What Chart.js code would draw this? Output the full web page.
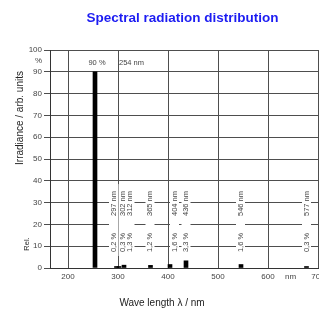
<!DOCTYPE html>
<html>
<head>
<meta charset="utf-8">
<script src="https://cdn.jsdelivr.net/npm/chart.js@4.4.1/dist/chart.umd.min.js"></script>
<style>
  html, body { margin: 0; padding: 0; background: #fff; overflow: hidden; }
  .content { width: 370px; height: 309px; }
</style>
</head>
<body>
<div class="content"><canvas id="myChart" width="370" height="309"></canvas></div>
<script>
// spectral lines (mercury lamp)
const lineNames = ['254 nm', '297 nm', '302 nm', '312 nm', '365 nm', '404 nm', '436 nm', '546 nm', '577 nm']
// where each bar stands on the wave length axis in the picture
const barPos = [254, 297, 302, 312, 365, 404, 436, 546, 677]
// where the rotated text column of each line stands
const labelPos = [258, 291, 310, 324, 364, 413, 436, 545, 677]
const percent = [90, 0.2, 0.3, 1.3, 1.2, 1.6, 3.3, 1.6, 0.3]
const percentText = ['90 %', '0,2 %', '0,3 %', '1,3 %', '1,2 %', '1,6 %', '3,3 %', '1,6 %', '0,3 %']

const xTicks = [200, 300, 400, 500, 600, 645, 700]
const yTicks = [0, 10, 20, 30, 40, 50, 60, 70, 80, 90, 95, 100]

const gridColor = '#4e4e4e'
const tickFont = { family: "'Liberation Sans Narrow', 'Liberation Sans', Arial, sans-serif", size: 8 }

const lineLabels = {
    id: 'lineLabels',
    beforeDatasetsDraw(chart) {
        const { ctx } = chart
        const x = chart.scales.x
        const y = chart.scales.y
        ctx.save()
        // white columns behind the texts, they cut the grid
        ctx.fillStyle = '#fff'
        for (let i = 1; i < lineNames.length; i++) {
            let px = x.getPixelForValue(labelPos[i])
            let top = y.getPixelForValue(38.5)
            let bottom = y.getPixelForValue(5.5)
            ctx.fillRect(px - 4.5, top, 9, bottom - top)
        }
        ctx.fillStyle = '#444'
        ctx.font = "7.5px 'Liberation Sans Narrow', 'Liberation Sans', Arial, sans-serif"
        ctx.textAlign = 'center'
        ctx.textBaseline = 'middle'
        for (let i = 1; i < lineNames.length; i++) {
            let px = x.getPixelForValue(labelPos[i])
            ctx.save()
            ctx.translate(px, y.getPixelForValue(29.6))
            ctx.rotate(-Math.PI / 2)
            ctx.fillText(lineNames[i], 0, 0)
            ctx.restore()
            ctx.save()
            ctx.translate(px, y.getPixelForValue(11.7))
            ctx.rotate(-Math.PI / 2)
            ctx.fillText(percentText[i], 0, 0)
            ctx.restore()
        }
        // the big line gets its text on top, flat
        let ty = y.getPixelForValue(94.2)
        ctx.fillText(percentText[0], x.getPixelForValue(labelPos[0]), ty)
        ctx.textAlign = 'left'
        ctx.fillText(lineNames[0], x.getPixelForValue(302), ty)
        ctx.restore()
    },
    afterDraw(chart) {
        const { ctx } = chart
        ctx.save()
        ctx.fillStyle = '#222'
        ctx.textAlign = 'center'
        ctx.textBaseline = 'middle'
        ctx.font = "10px 'Liberation Sans', Arial, sans-serif"
        ctx.fillText('Wave length \u03bb / nm', 162, 303)
        ctx.save()
        ctx.translate(20, 118)
        ctx.rotate(-Math.PI / 2)
        ctx.fillText('Irradiance / arb. units', 0, 0)
        ctx.restore()
        ctx.font = "7.5px 'Liberation Sans', Arial, sans-serif"
        ctx.save()
        ctx.translate(27, 244)
        ctx.rotate(-Math.PI / 2)
        ctx.fillText('Rel.', 0, 0)
        ctx.restore()
        ctx.restore()
    }
}

const ctx = document.getElementById('myChart')
const myChart = new Chart(ctx, {
    type: 'bar',
    data: {
        datasets: [{
            data: barPos.map((p, i) => ({ x: p, y: percent[i] })),
            backgroundColor: '#000',
            borderWidth: 0,
            barThickness: 4,
            minBarLength: 1.5
        }]
    },
    options: {
        responsive: false,
        animation: false,
        layout: { padding: { left: 0, right: 5, top: 0, bottom: 0 } },
        plugins: {
            legend: { display: false },
            tooltip: { enabled: false },
            title: {
                display: true,
                text: 'Spectral radiation distribution',
                color: '#1c1cf2',
                font: { family: "'Liberation Sans', Arial, sans-serif", size: 13.5, weight: 'bold' },
                padding: { top: 10.2, bottom: 23.6 }
            }
        },
        scales: {
            x: {
                type: 'linear',
                min: 164,
                max: 794,
                offset: false,
                afterBuildTicks: scale => { scale.ticks = xTicks.map(v => ({ value: v })) },
                afterFit: scale => { scale.height = 41 },
                ticks: {
                    color: '#444',
                    font: tickFont,
                    padding: 4,
                    maxRotation: 0,
                    autoSkip: false,
                    callback: v => v === 645 ? 'nm' : v
                },
                grid: {
                    offset: false,
                    drawTicks: false,
                    color: c => c.tick && c.tick.value === 645 ? 'rgba(0,0,0,0)' : gridColor,
                    lineWidth: 1
                },
                border: { display: true, color: '#333', width: 1 }
            },
            y: {
                min: 0,
                max: 100,
                afterBuildTicks: scale => { scale.ticks = yTicks.map(v => ({ value: v })) },
                afterFit: scale => { scale.width = 50 },
                ticks: {
                    color: '#444',
                    font: tickFont,
                    padding: 2,
                    autoSkip: false,
                    callback: v => v === 95 ? '%' : v
                },
                grid: {
                    color: c => c.tick && c.tick.value === 95 ? 'rgba(0,0,0,0)' : gridColor,
                    tickLength: 6,
                    lineWidth: 1
                },
                border: { display: true, color: '#333', width: 1 }
            }
        }
    },
    plugins: [lineLabels]
})
</script>
</body>
</html>
